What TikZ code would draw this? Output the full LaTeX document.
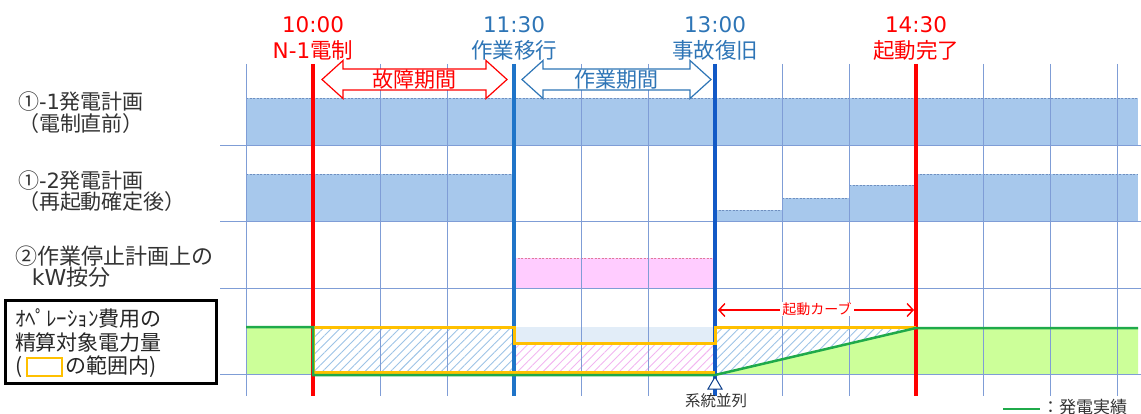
\documentclass[tikz,border=0pt]{standalone}
\usepackage{fontspec}
\setmainfont{Noto Sans CJK JP}
\newfontfamily\latinfont{DejaVu Sans}
\usetikzlibrary{positioning,arrows.meta,patterns.meta}
\definecolor{evred}{HTML}{FF0000}
\definecolor{evblue}{HTML}{1F74C8}
\definecolor{evbluedk}{HTML}{1259C6}
\definecolor{txtblue}{HTML}{2E75B6}
\definecolor{gridblue}{HTML}{7F9DD6}
\definecolor{planfill}{HTML}{A7C8EC}
\definecolor{planedge}{HTML}{6F8FBF}
\definecolor{pinkfill}{HTML}{FFCCFF}
\definecolor{pinkedge}{HTML}{E07A9A}
\definecolor{greenfill}{HTML}{CCFF99}
\definecolor{greenline}{HTML}{1FAA4A}
\definecolor{orangeline}{HTML}{FFC000}
\definecolor{bandfill}{HTML}{E2EDF8}
\definecolor{hatchblue}{HTML}{9DC3E6}
\definecolor{hatchpink}{HTML}{F2B6F0}

\begin{document}
\begin{tikzpicture}[x=1pt,y=-1pt,
  every node/.style={inner sep=0pt,outer sep=0pt},
  evtext/.style={font=\fontsize{21.5}{24}\selectfont},
  rowlabel/.style={anchor=west,align=left,font=\fontsize{21}{21.5}\selectfont,text=black!80},
  boxtext/.style={anchor=west,font=\fontsize{21}{24}\selectfont,text=black!85},
  gridline/.style={draw=gridblue,line width=0.7pt},
  plantop/.style={draw=planedge,dash pattern=on 2pt off 1.5pt,line width=0.7pt},
  evline/.style={line width=3.5pt},
  hatch/.style={pattern={Lines[angle=45,distance=6pt,line width=0.9pt]},pattern color=#1}]
  \useasboundingbox (0,0) rectangle (1141,414);

  % row 1: plan just before trip
  \fill[planfill] (246,98) rectangle (1138,145);
  \draw[plantop] (246,98) -- (1138,98);
  % row 2: plan after restart
  \foreach \xa/\xb/\yt in {246/514/174, 715/782/210, 782/849/198, 849/916/185, 916/1138/174}{
    \fill[planfill] (\xa,\yt) rectangle (\xb,221);
    \draw[plantop] (\xa,\yt) -- (\xb,\yt);
  }
  % row 3: kW share
  \fill[pinkfill] (514,258) rectangle (715,288);
  \draw[plantop,draw=pinkedge] (514,258) -- (715,258);
  % row 4: fills and hatching
  \fill[bandfill] (514,327) rectangle (715,343);
  \fill[greenfill] (246,327) rectangle (313,374);
  \fill[greenfill] (715,374) -- (916,328) -- (1138,328) -- (1138,374) -- cycle;
  \fill[hatch=hatchblue] (313,327) rectangle (514,373);
  \fill[hatch=hatchblue] (715,327) -- (916,327) -- (715,374) -- cycle;
  \fill[hatch=hatchpink] (514,343) rectangle (715,373);

  % grid
  \foreach \i in {0,...,13}
    \draw[gridline] ({246+67*\i},64) -- ({246+67*\i},396);
  \foreach \y in {145,221,288,374}
    \draw[gridline] (220,\y) -- (1141,\y);

  % event lines
  \foreach \x/\c in {313/evred, 514/evblue, 715/evbluedk, 916/evred}
    \draw[evline,\c] (\x,64) -- (\x,396);

  % event labels
  \node[evtext,text=evred] (t1) at (313,25) {\latinfont 10:00};
  \node[evtext,text=evred] (e1) at (313,50) {{\latinfont N-1}電制};
  \node[evtext,text=txtblue] (t2) at (514,25) {\latinfont 11:30};
  \node[evtext,text=txtblue] (e2) at (514,50) {作業移行};
  \node[evtext,text=txtblue] (t3) at (715,25) {\latinfont 13:00};
  \node[evtext,text=txtblue] (e3) at (715,50) {事故復旧};
  \node[evtext,text=evred] (t4) at (916,25) {\latinfont 14:30};
  \node[evtext,text=evred] (e4) at (916,50) {起動完了};

  % period arrows
  \draw[evred,fill=white,line width=1.2pt] (322,79.5) -- (343,60.5) -- (343,69) -- (486,69)
    -- (486,60.5) -- (507,79.5) -- (486,98.5) -- (486,90) -- (343,90) -- (343,98.5) -- cycle;
  \node[font=\fontsize{21}{23}\selectfont,text=evred] (fault) at (414.5,80) {故障期間};
  \draw[txtblue,fill=white,line width=1.2pt] (522,79.5) -- (543,60.5) -- (543,69) -- (690,69)
    -- (690,60.5) -- (711,79.5) -- (690,98.5) -- (690,90) -- (543,90) -- (543,98.5) -- cycle;
  \node[font=\fontsize{21}{23}\selectfont,text=txtblue] (work) at (616.5,80) {作業期間};

  % row labels
  \node[rowlabel] (plan1) at (18,112.5) {①{\latinfont -1}発電計画\\（電制直前）};
  \node[rowlabel] (plan2) at (18,191) {①{\latinfont -2}発電計画\\（再起動確定後）};
  \node[rowlabel,font=\fontsize{22}{21.5}\selectfont] (share) at (16,266.5) {②作業停止計画上の\\\hspace*{16pt}{\latinfont kW}按分};

  % row 4: outlines
  \draw[orangeline,line width=3pt,line join=miter] (916,327) -- (715,327) -- (715,343) -- (514,343)
    -- (514,327) -- (313,327) -- (313,372) -- (715,372);
  \draw[greenline,line width=2.5pt] (246,327) -- (313,327) -- (313,375) -- (715,375)
    -- (916,328) -- (1138,328);

  % start-up curve arrow
  \coordinate (cs) at (718,310);
  \coordinate (ce) at (914,310);
  \draw[evred,line width=1.4pt,{Straight Barb[length=6pt,width=13pt]}-{Straight Barb[length=6pt,width=13pt]}] (cs) -- (ce);
  \node[fill=white,text=evred,inner xsep=2pt,font=\fontsize{14}{16}\selectfont] (curve) at (817,309) {起動カーブ};

  % grid connection mark
  \draw[evbluedk!70!black,fill=white,line width=1pt] (715,377) -- (722,389) -- (708,389) -- cycle;
  \node[font=\fontsize{15.5}{17}\selectfont,text=black!80] (para) at (716,401) {系統並列};

  % cost box
  \node[draw=black,line width=3pt,minimum width=211pt,minimum height=83pt] (costbox) at (110.5,341.5) {};
  \node[boxtext] (c1) at (15,318) {ｵﾍﾟﾚｰｼｮﾝ費用の};
  \node[boxtext] (c2) at (15,343) {精算対象電力量};
  \node[boxtext] (paren) at (15,367) {(};
  \node[draw=orangeline,line width=2.5pt,minimum width=35pt,minimum height=18pt,right=5pt of paren] (rng) {};
  \node[boxtext,right=3pt of rng] (c3) {の範囲内)};

  % legend
  \coordinate (lg1) at (1003,409);
  \coordinate (lg2) at (1040,409);
  \draw[greenline,line width=2.5pt] (lg1) -- (lg2);
  \node[anchor=west,font=\fontsize{17}{19}\selectfont,text=black!80] (lgt) at (1042,407) {：発電実績};
\end{tikzpicture}
\end{document}
